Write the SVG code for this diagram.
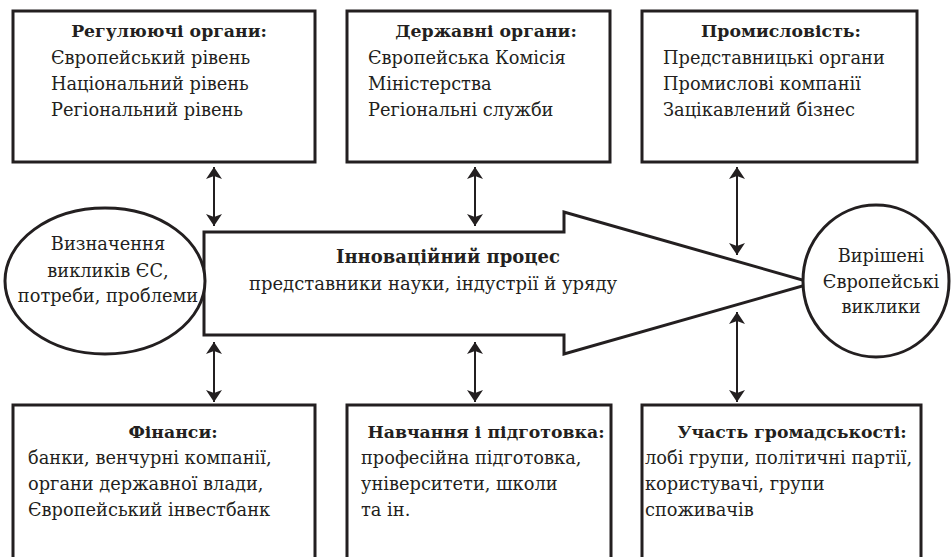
<svg xmlns="http://www.w3.org/2000/svg" width="951" height="557" viewBox="0 0 951 557">
  <defs>
    <marker id="head" viewBox="0 0 12 16" refX="12" refY="8" markerWidth="12" markerHeight="16" markerUnits="userSpaceOnUse" orient="auto-start-reverse">
      <path d="M0,0 L12,8 L0,16 L3,8 Z" fill="#231f20"/>
    </marker>
    <style>
      .box { fill: #fff; stroke: #231f20; stroke-width: 3; }
      .shape { fill: #fff; stroke: #231f20; stroke-width: 3; }
      .link { fill: none; stroke: #231f20; stroke-width: 2; marker-start: url(#head); marker-end: url(#head); }
      text { font-family: "DejaVu Serif", "Liberation Serif", serif; font-size: 17.8px; fill: #231f20; }
      .title { font-weight: bold; font-size: 17.3px; text-anchor: middle; }
      .mid { text-anchor: middle; }
      .big { font-size: 18px; }
    </style>
  </defs>
  <rect width="951" height="557" fill="#fff"/>

  <!-- central process arrow -->
  <g id="process">
    <path class="shape" d="M204,232 H564 V212 L813,283 L564,354 V335 H204 Z"/>
    <text class="title big" x="448" y="263">Інноваційний процес</text>
    <text class="mid big" x="433" y="290">представники науки, індустрії й уряду</text>
  </g>

  <!-- start: challenge definition -->
  <g id="challenges">
    <ellipse class="shape" cx="105" cy="281" rx="100" ry="73"/>
    <text class="mid" x="108" y="250">Визначення</text>
    <text class="mid" x="108" y="277">викликів ЄС,</text>
    <text class="mid" x="108" y="302">потреби, проблеми</text>
  </g>

  <!-- end: solved challenges -->
  <g id="solved">
    <ellipse class="shape" cx="876" cy="281" rx="73" ry="76"/>
    <text class="mid" x="881" y="262">Вирішені</text>
    <text class="mid" x="881" y="288">Європейські</text>
    <text class="mid" x="881" y="313">виклики</text>
  </g>

  <!-- top row -->
  <g id="regulators">
    <rect class="box" x="13" y="11" width="302" height="151"/>
    <text class="title" x="169" y="37">Регулюючі органи:</text>
    <text x="51" y="64">Європейський рівень</text>
    <text x="51" y="90">Національний рівень</text>
    <text x="51" y="116">Регіональний рівень</text>
  </g>

  <g id="government">
    <rect class="box" x="347" y="11" width="263" height="151"/>
    <text class="title" x="486" y="37">Державні органи:</text>
    <text x="368" y="64">Європейська Комісія</text>
    <text x="368" y="90">Міністерства</text>
    <text x="368" y="116">Регіональні служби</text>
  </g>

  <g id="industry">
    <rect class="box" x="642" y="11" width="275" height="151"/>
    <text class="title" x="781" y="37">Промисловість:</text>
    <text x="663" y="64">Представницькі органи</text>
    <text x="663" y="90">Промислові компанії</text>
    <text x="663" y="116">Зацікавлений бізнес</text>
  </g>

  <!-- bottom row (boxes run past the lower edge) -->
  <g id="finance">
    <rect class="box" x="13" y="405" width="302" height="200"/>
    <text class="title" x="173" y="438">Фінанси:</text>
    <text x="28" y="464">банки, венчурні компанії,</text>
    <text x="28" y="490">органи державної влади,</text>
    <text x="28" y="516">Європейський інвестбанк</text>
  </g>

  <g id="education">
    <rect class="box" x="347" y="405" width="264" height="200"/>
    <text class="title" x="486" y="438">Навчання і підготовка:</text>
    <text x="361" y="464">професійна підготовка,</text>
    <text x="361" y="490">університети, школи</text>
    <text x="361" y="516">та ін.</text>
  </g>

  <g id="public">
    <rect class="box" x="642" y="405" width="279" height="200"/>
    <text class="title" x="792" y="438">Участь громадськості:</text>
    <text x="645" y="464">лобі групи, політичні партії,</text>
    <text x="645" y="490">користувачі, групи</text>
    <text x="645" y="516">споживачів</text>
  </g>

  <!-- two-way links between stakeholders and the process -->
  <g id="connectors">
    <line class="link" x1="214" y1="167" x2="214" y2="226"/>
    <line class="link" x1="475" y1="167" x2="475" y2="226"/>
    <line class="link" x1="737" y1="167" x2="737" y2="255"/>
    <line class="link" x1="214" y1="342" x2="214" y2="402"/>
    <line class="link" x1="475" y1="342" x2="475" y2="402"/>
    <line class="link" x1="737" y1="312" x2="737" y2="402"/>
  </g>
</svg>
